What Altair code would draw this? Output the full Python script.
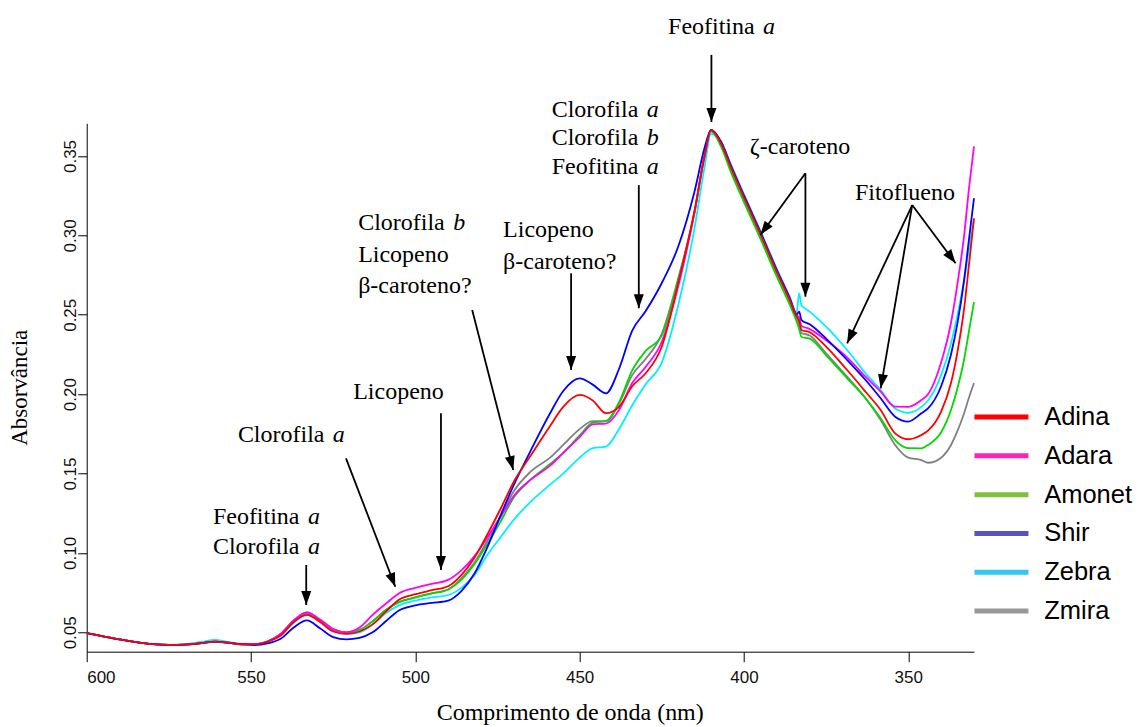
import math
import altair as alt
import pandas as pd

# ---------------- data ----------------
wl = [600, 595, 590, 585, 580, 575, 570, 565, 561, 557, 553, 549, 545,
      541, 537, 533, 529, 525, 521, 517, 513, 509, 505,
      500, 495, 490, 486, 482, 478, 474, 470,
      465, 459, 455, 450, 446, 442, 438, 434, 430,
      425, 420, 415, 412, 410, 407, 404, 400,
      395, 390, 386, 384, 383.2, 382.5, 380, 375,
      368.6, 363, 358.4, 354, 350, 346, 344, 340,
      337, 335, 333, 331.5, 330]

adina = [0.0495, 0.0475, 0.0455, 0.0438, 0.0425, 0.042, 0.0423, 0.0432, 0.0442, 0.0435, 0.0425, 0.0425, 0.0442,
         0.048, 0.0565, 0.061, 0.0565, 0.0505, 0.049, 0.0505, 0.055, 0.063, 0.0705,
         0.074, 0.0765, 0.079, 0.086, 0.097, 0.112, 0.128, 0.145,
         0.161, 0.180, 0.192, 0.1995, 0.196, 0.188, 0.192, 0.205, 0.213,
         0.230, 0.270, 0.316, 0.350, 0.3664, 0.358, 0.343, 0.324,
         0.301, 0.277, 0.259, 0.249, 0.246, 0.2404, 0.239, 0.230,
         0.2152, 0.2015, 0.190, 0.1753, 0.1716, 0.1743, 0.177, 0.189,
         0.207, 0.227, 0.254, 0.282, 0.3108]

adara = [0.0495, 0.0475, 0.0455, 0.0438, 0.0425, 0.042, 0.0423, 0.0432, 0.0442, 0.0435, 0.0425, 0.0425, 0.0442,
         0.049, 0.0575, 0.0625, 0.058, 0.052, 0.050, 0.053, 0.061, 0.068, 0.0745,
         0.078, 0.0805, 0.083, 0.089, 0.098, 0.110, 0.123, 0.136,
         0.146, 0.155, 0.163, 0.173, 0.181, 0.1815, 0.190, 0.207, 0.217,
         0.233, 0.268, 0.315, 0.350, 0.3664, 0.359, 0.344, 0.325,
         0.302, 0.278, 0.260, 0.250, 0.248, 0.243, 0.241, 0.234,
         0.2232, 0.211, 0.2016, 0.1921, 0.192, 0.1963, 0.200, 0.220,
         0.245, 0.270, 0.300, 0.330, 0.356]

amonet = [0.0495, 0.0475, 0.0455, 0.0438, 0.0425, 0.042, 0.0423, 0.0432, 0.0442, 0.0435, 0.0425, 0.0425, 0.0442,
          0.049, 0.0575, 0.0625, 0.058, 0.052, 0.050, 0.0515, 0.057, 0.064, 0.069,
          0.072, 0.0745, 0.077, 0.083, 0.093, 0.106, 0.120, 0.135,
          0.146, 0.156, 0.163, 0.174, 0.182, 0.183, 0.195, 0.215, 0.227,
          0.237, 0.272, 0.315, 0.350, 0.3655, 0.356, 0.340, 0.321,
          0.298, 0.274, 0.256, 0.246, 0.241, 0.236, 0.235, 0.2245,
          0.210, 0.1974, 0.1848, 0.1711, 0.166, 0.1659, 0.168, 0.176,
          0.190, 0.204, 0.222, 0.240, 0.258]

shir = [0.0495, 0.0475, 0.0455, 0.0438, 0.0425, 0.042, 0.0423, 0.0432, 0.0442, 0.0435, 0.0425, 0.042, 0.043,
        0.046, 0.053, 0.0575, 0.0525, 0.047, 0.0456, 0.0465, 0.050, 0.057, 0.0638,
        0.067, 0.0685, 0.070, 0.076, 0.087, 0.104, 0.124, 0.143,
        0.164, 0.188, 0.202, 0.210, 0.206, 0.2005, 0.216, 0.240, 0.252,
        0.270, 0.293, 0.328, 0.355, 0.3664, 0.359, 0.344, 0.325,
        0.302, 0.278, 0.260, 0.250, 0.252, 0.2467, 0.244, 0.235,
        0.2215, 0.2089, 0.1974, 0.1858, 0.1827, 0.188, 0.191, 0.205,
        0.225, 0.245, 0.272, 0.298, 0.3234]

zebra = [0.0495, 0.0475, 0.0455, 0.0438, 0.0425, 0.042, 0.0425, 0.0440, 0.0452, 0.0440, 0.0428, 0.0425, 0.0442,
         0.048, 0.056, 0.0615, 0.057, 0.051, 0.049, 0.050, 0.055, 0.062, 0.067,
         0.070, 0.072, 0.0735, 0.078, 0.086, 0.099, 0.110, 0.121,
         0.132, 0.143, 0.150, 0.160, 0.166, 0.167, 0.178, 0.193, 0.206,
         0.220, 0.256, 0.305, 0.343, 0.364, 0.359, 0.345, 0.326,
         0.303, 0.279, 0.261, 0.251, 0.2635, 0.256, 0.252, 0.2425,
         0.2278, 0.2131, 0.2026, 0.191, 0.1883, 0.192, 0.196, 0.212,
         0.232, 0.250, 0.272, 0.292, 0.310]

zmira = [0.0495, 0.0475, 0.0455, 0.0438, 0.0425, 0.042, 0.0423, 0.0432, 0.0442, 0.0435, 0.0425, 0.0425, 0.0442,
         0.049, 0.057, 0.062, 0.0575, 0.0515, 0.050, 0.0515, 0.057, 0.064, 0.069,
         0.072, 0.0745, 0.077, 0.084, 0.094, 0.108, 0.123, 0.139,
         0.151, 0.160, 0.168, 0.178, 0.183, 0.183, 0.194, 0.212, 0.222,
         0.238, 0.273, 0.315, 0.350, 0.366, 0.358, 0.342, 0.323,
         0.300, 0.276, 0.258, 0.248, 0.244, 0.2385, 0.237, 0.2257,
         0.211, 0.1974, 0.1837, 0.168, 0.160, 0.1585, 0.1568, 0.160,
         0.168, 0.177, 0.188, 0.198, 0.207]

series_names = ["Adina", "Adara", "Amonet", "Shir", "Zebra", "Zmira"]
line_colors = ["#FF0000", "#FF00FF", "#00D800", "#0000FF", "#00F0FF", "#808080"]
legend_colors = ["#FF0000", "#FF22BB", "#80C040", "#5555BB", "#33C8EE", "#999999"]

# drawing order (last on top)
draw_order = [("Zebra", zebra), ("Zmira", zmira), ("Amonet", amonet),
              ("Adara", adara), ("Shir", shir), ("Adina", adina)]

x_ticks = [600, 550, 500, 450, 400, 350]
y_ticks = [0.05, 0.10, 0.15, 0.20, 0.25, 0.30, 0.35]

# annotation text lines: (left wavelength, absorbance, regular text, italic text)
ann_lam = [423.1, 458.5, 458.5, 458.5, 473.3, 473.3, 517.4, 517.4, 517.4, 518.9, 554.0, 561.6, 561.6, 398.2, 366.2]
ann_val = [0.4312, 0.3790, 0.3611, 0.3433, 0.3034, 0.2834, 0.3078, 0.2877, 0.2681, 0.2015, 0.1743, 0.1228, 0.1039, 0.3559, 0.3265]
ann_txt = ["Feofitina", "Clorofila", "Clorofila", "Feofitina", "Licopeno", "β-caroteno?",
           "Clorofila", "Licopeno", "β-caroteno?", "Licopeno", "Clorofila", "Feofitina", "Clorofila",
           "ζ-caroteno", "Fitoflueno"]
ann_ital = ["a", "a", "b", "a", "", "", "b", "", "", "", "a", "a", "a", "", ""]

# arrows: start (wavelength, absorbance) -> tip (wavelength, absorbance)
arr_l0 = [409.9, 432.0, 452.6, 482.7, 492.2, 521.1, 533.2, 381.3, 381.3, 348.8, 348.8, 348.8]
arr_v0 = [0.4137, 0.3317, 0.2761, 0.2530, 0.1879, 0.1596, 0.0924, 0.3391, 0.3391, 0.3191, 0.3191, 0.3191]
arr_l1 = [409.9, 432.0, 452.6, 470.2, 492.2, 506.1, 533.2, 395.0, 381.3, 368.6, 358.4, 335.6]
arr_v1 = [0.3714, 0.2541, 0.2152, 0.1522, 0.0892, 0.0787, 0.0672, 0.3003, 0.2614, 0.2320, 0.2037, 0.2824]

# ---------------- layout ----------------
PLOT_W = 887.3
PLOT_H = 528.4
X_DOM = [600, 330]
Y_DOM = [0.0378, 0.3706]
PX_NM = PLOT_W / abs(X_DOM[0] - X_DOM[1])
PX_V = PLOT_H / (Y_DOM[1] - Y_DOM[0])
ITAL_OFFSET_PX = 95

rows = []
for name, vals in draw_order:
    assert len(vals) == len(wl), name
    for w, v in zip(wl, vals):
        rows.append({"series": name, "wl": w, "abs": v})
df = pd.DataFrame(rows)

ann_reg = pd.DataFrame({"lam": ann_lam, "val": ann_val, "txt": ann_txt})
ital_rows = []
for l, v, t in zip(ann_lam, ann_val, ann_ital):
    if t:
        ital_rows.append({"lam": l - ITAL_OFFSET_PX / PX_NM, "val": v, "txt": t})
ann_it = pd.DataFrame(ital_rows)

arr_rows = []
for l0, v0, l1, v1 in zip(arr_l0, arr_v0, arr_l1, arr_v1):
    dx = (l0 - l1) * PX_NM
    dy = (v0 - v1) * PX_V
    ang = math.degrees(math.atan2(dx, -dy)) % 360
    arr_rows.append({"l0": l0, "v0": v0, "l1": l1, "v1": v1, "ang": ang})
arr = pd.DataFrame(arr_rows)

xscale = alt.Scale(domain=X_DOM, nice=False, zero=False)
yscale = alt.Scale(domain=Y_DOM, nice=False, zero=False)

x_axis = alt.Axis(values=x_ticks, format="d", title="Comprimento  de  onda (nm)",
                  tickSize=10, labelPadding=8, labelFontSize=17,
                  titleFont="Liberation Serif", titleFontSize=24, titleFontWeight="normal",
                  titleX=483, titleY=61, titleBaseline="middle", titleAlign="center")
y_axis = alt.Axis(values=y_ticks, format=".2f", title="Absorvância",
                  tickSize=9, labelPadding=2, labelFontSize=17, labelAngle=270,
                  labelAlign="center", labelBaseline="alphabetic",
                  titleFont="Liberation Serif", titleFontSize=23, titleFontWeight="normal",
                  titleAngle=270, titleX=-67, titleY=264, titleBaseline="middle", titleAlign="center")

lines = alt.Chart(df).mark_line(strokeWidth=1.8, interpolate="monotone").encode(
    x=alt.X("wl:Q", scale=xscale, axis=x_axis),
    y=alt.Y("abs:Q", scale=yscale, axis=y_axis),
    color=alt.Color("series:N", scale=alt.Scale(domain=series_names, range=line_colors), legend=None),
    detail="series:N",
)

legend_layer = alt.Chart(df).mark_line(opacity=0).encode(
    x=alt.X("wl:Q", scale=xscale),
    y=alt.Y("abs:Q", scale=yscale),
    color=alt.Color("series:N", scale=alt.Scale(domain=series_names, range=legend_colors),
                    legend=alt.Legend(title=None, orient="none", legendX=902, legendY=281,
                                      symbolType="M-3,0H3", symbolSize=324, symbolStrokeWidth=5,
                                      symbolOpacity=1, labelFont="Liberation Sans", labelFontSize=25.5,
                                      labelColor="black", labelOffset=30, rowPadding=11.8, padding=0,
                                      labelLimit=200)),
)

arrow_lines = alt.Chart(arr).mark_rule(strokeWidth=1.8, color="black").encode(
    x=alt.X("l0:Q", scale=xscale), y=alt.Y("v0:Q", scale=yscale),
    x2="l1:Q", y2="v1:Q",
)
arrow_heads = alt.Chart(arr).mark_point(shape="M0,0L-0.5,1.4L0.5,1.4Z", filled=True, size=400,
                                        color="black", opacity=1).encode(
    x=alt.X("l1:Q", scale=xscale), y=alt.Y("v1:Q", scale=yscale),
    angle=alt.Angle("ang:Q", scale=None),
)

txt_reg = alt.Chart(ann_reg).mark_text(align="left", baseline="middle", font="Liberation Serif",
                                       fontSize=24, color="black").encode(
    x=alt.X("lam:Q", scale=xscale), y=alt.Y("val:Q", scale=yscale), text="txt:N",
)
txt_it = alt.Chart(ann_it).mark_text(align="left", baseline="middle", font="Liberation Serif",
                                     fontSize=24, fontStyle="italic", color="black").encode(
    x=alt.X("lam:Q", scale=xscale), y=alt.Y("val:Q", scale=yscale), text="txt:N",
)

chart = alt.layer(lines, legend_layer, arrow_lines, arrow_heads, txt_reg, txt_it).resolve_scale(
    color="independent"
).properties(
    width=PLOT_W, height=PLOT_H,
    autosize=alt.AutoSizeParams(type="none"),
    padding={"left": 78.7, "top": 115.3, "right": 160, "bottom": 76},
).configure_view(stroke=None).configure_axis(
    grid=False, domainColor="black", tickColor="black", labelColor="#111111",
    labelFont="Liberation Sans", titleColor="black", domainWidth=1, tickWidth=1,
)

chart.save("out.html", embed_options={"renderer": "svg", "actions": False})
